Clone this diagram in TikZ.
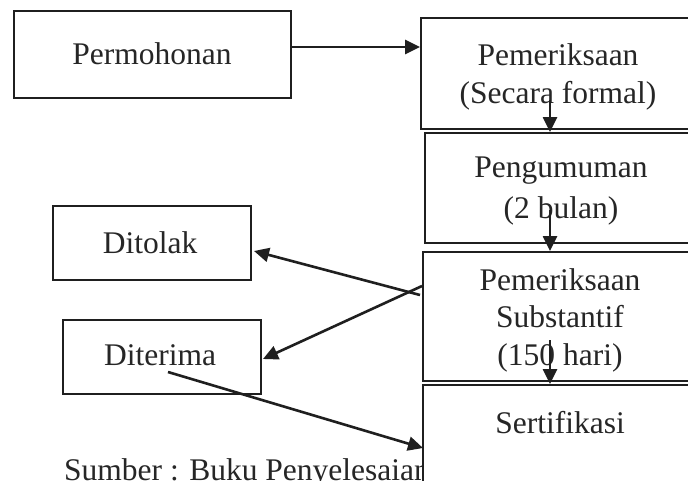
\documentclass[tikz,border=0pt]{standalone}
\usepackage{fontspec}
\setmainfont{Liberation Serif}
\usetikzlibrary{arrows.meta,calc}
\begin{document}
\begin{tikzpicture}[x=1pt,y=-1pt,
  box/.style={draw=black!88, line width=2pt, fill=white, rectangle, inner sep=0pt, anchor=north west},
  txt/.style={font=\fontsize{31.5}{38}\selectfont, text=black!85, anchor=base, inner sep=0pt},
  arr/.style={draw=black!88, line width=2.6pt, -{Triangle[length=15pt,width=14pt]}}]
\useasboundingbox (0,0) rectangle (688,480);
\clip (0,0) rectangle (688,480);
\fill[white] (0,0) rectangle (688,480);
% source note (partly hidden behind the Sertifikasi box)
\node[txt, anchor=base west] (src) at (64,480) {Sumber : Buku Penyelesaian};
% boxes
\node[box, minimum width=277pt, minimum height=87pt] (perm) at (13,10) {};
\node[box, minimum width=280pt, minimum height=111pt] (pem) at (420,17) {};
\node[box, minimum width=276pt, minimum height=110pt] (peng) at (424,132) {};
\node[box, minimum width=278pt, minimum height=129pt] (ps) at (422,251) {};
\node[box, minimum width=278pt, minimum height=130pt] (sert) at (422,384) {};
\node[box, minimum width=198pt, minimum height=74pt] (dit) at (52,205) {};
\node[box, minimum width=198pt, minimum height=74pt] (dtr) at (62,319) {};
% texts
\node[txt] (permt) at (152,64) {Permohonan};
\node[txt] (pemt1) at (558,65) {Pemeriksaan};
\node[txt] (pemt2) at (558,103) {(Secara formal)};
\node[txt] (pengt1) at (561,177) {Pengumuman};
\node[txt] (pengt2) at (561,218) {(2 bulan)};
\node[txt] (pst1) at (560,290) {Pemeriksaan};
\node[txt] (pst2) at (560,327) {Substantif};
\node[txt] (pst3) at (560,365) {(150 hari)};
\node[txt] (sertt) at (560,433) {Sertifikasi};
\node[txt] (ditt) at (150,253) {Ditolak};
\node[txt] (dtrt) at (160,365) {Diterima};
% connectors
\draw[arr] ($(perm.north east)+(0,37)$) -- ($(pem.north west)+(0,30)$);
\draw[arr] ($(pem.south west)+(130,-30)$) -- ($(peng.north west)+(126,0)$);
\draw[arr] ($(peng.south west)+(126,-34)$) -- ($(ps.north west)+(128,0)$);
\draw[arr] ($(ps.south west)+(128,-42)$) -- ($(sert.north west)+(128,0)$);
\draw[arr] ($(ps.north west)+(-2,44)$) -- ($(dit.north east)+(2,46)$);
\draw[arr] ($(ps.north west)+(0,35)$) -- ($(dtr.north east)+(1,40)$);
\draw[arr] ($(dtr.north west)+(106,53)$) -- ($(sert.north west)+(1,64)$);
\end{tikzpicture}
\end{document}
